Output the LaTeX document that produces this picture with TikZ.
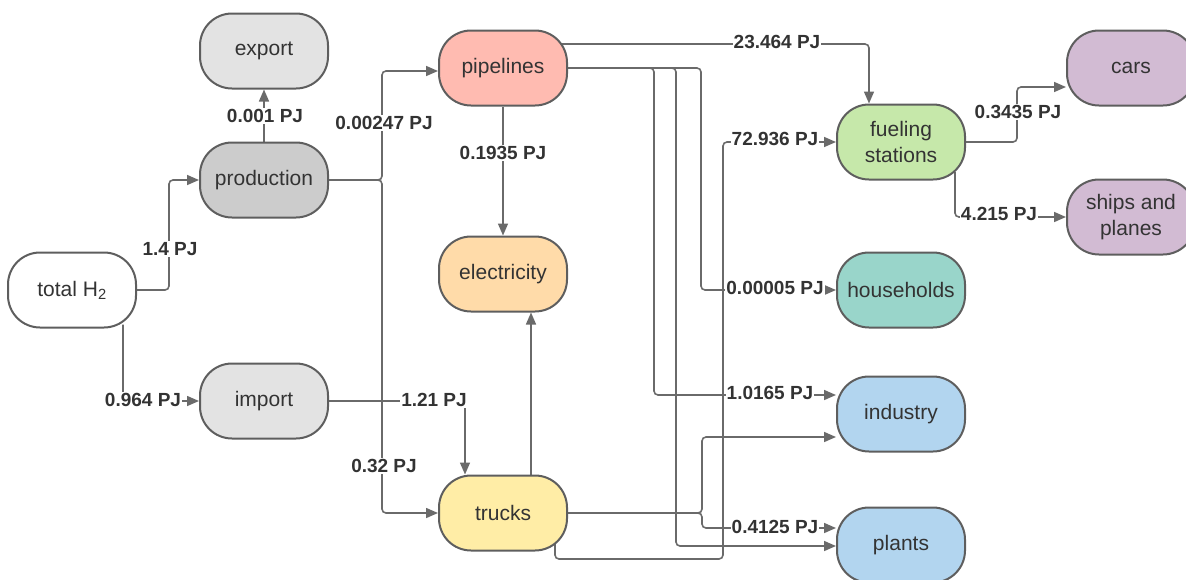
\documentclass[tikz,border=0pt]{standalone}
\usepackage{fontspec}
\setmainfont{Liberation Sans}
\usetikzlibrary{arrows.meta,calc}
\pgfdeclarelayer{bg}
\pgfsetlayers{bg,main}

\definecolor{edgegray}{HTML}{5E5E5E}
\definecolor{linegray}{HTML}{6A6A6A}
\definecolor{txt}{HTML}{333333}
\definecolor{lightgray}{HTML}{E3E3E3}
\definecolor{midgray}{HTML}{CCCCCC}
\definecolor{salmon}{HTML}{FFBBB1}
\definecolor{peach}{HTML}{FFDBA9}
\definecolor{butter}{HTML}{FFEDA6}
\definecolor{leaf}{HTML}{C6E8AA}
\definecolor{teal}{HTML}{99D5CA}
\definecolor{sky}{HTML}{B2D5EF}
\definecolor{lilac}{HTML}{D2BBD3}

\begin{document}
\begin{tikzpicture}[x=1pt,y=-1pt,
  box/.style={draw=edgegray, line width=2pt, rounded corners=32pt,
    minimum width=128pt, minimum height=75pt, inner sep=0pt,
    text=txt, align=center, font=\fontsize{21}{26}\selectfont},
  flow/.style={draw=linegray, line width=1.6pt, rounded corners=4pt,
    -{Triangle[length=12pt,width=10pt]}},
  qty/.style={fill=white, text=txt, inner sep=1pt,
    font=\fontsize{19}{22}\selectfont\bfseries}]

\useasboundingbox (0,0) rectangle (1186,579);

% sources and processes
\node[box, fill=white]     (total)      at (72,290)   {total H\textsubscript{2}};
\node[box, fill=lightgray] (export)     at (264,51)   {export};
\node[box, fill=midgray]   (production) at (264,180)  {production};
\node[box, fill=lightgray] (import)     at (264,401)  {import};
\node[box, fill=salmon]    (pipelines)  at (503,68)   {pipelines};
\node[box, fill=peach]     (electricity) at (503,274) {electricity};
\node[box, fill=butter]    (trucks)     at (503,513)  {trucks};
% consumers
\node[box, fill=leaf]      (fueling)    at (901,142)  {fueling\\stations};
\node[box, fill=teal]      (households) at (901,290)  {households};
\node[box, fill=sky]       (industry)   at (901,414)  {industry};
\node[box, fill=sky]       (plants)     at (901,545)  {plants};
\node[box, fill=lilac]     (cars)       at (1131,68)  {cars};
\node[box, fill=lilac]     (ships)      at (1131,217) {ships and\\planes};

\begin{pgfonlayer}{bg}
  % total hydrogen split
  \draw[flow] (total.east) -| ($(production.west)+(-30,0)$) -- (production.west);
  \draw[flow] ($(total.south)+(51,-4)$) |- (import.west);
  % production outputs
  \draw[flow] (production.north) -- (export.south);
  \draw[flow] (production.east) -| ($(pipelines.west)+(-56,3)$) -- ($(pipelines.west)+(0,3)$);
  \draw[flow] (production.east) -| ($(trucks.west)+(-56,0)$) -- (trucks.west);
  % import
  \draw[flow] (import.east) -| ($(trucks.north)+(-38,0)$);
  % pipelines
  \draw[flow] (pipelines.south) -- (electricity.north);
  \draw[flow] ($(pipelines.east)+(-8,-24)$) -| ($(fueling.north)+(-32,0)$);
  \draw[flow] (pipelines.east) -| ($(households.west)+(-135,0)$) -- (households.west);
  \draw[flow] (pipelines.east) -| ($(industry.west)+(-182,-19)$) -- ($(industry.west)+(0,-19)$);
  \draw[flow] (pipelines.east) -| ($(plants.west)+(-160,1)$) -- ($(plants.west)+(0,1)$);
  % trucks
  \draw[flow] ($(trucks.north)+(28,0)$) -- ($(electricity.south)+(28,0)$);
  \draw[flow] ($(trucks.center)+(52,30)$) -- ($(trucks.center)+(52,46)$)
              -| ($(fueling.west)+(-113,0)$) -- (fueling.west);
  \draw[flow] (trucks.east) -| ($(industry.west)+(-134,23)$) -- ($(industry.west)+(0,23)$);
  \draw[flow] (trucks.east) -| ($(plants.west)+(-134,-17)$) -- ($(plants.west)+(0,-17)$);
  % fueling stations
  \draw[flow] (fueling.east) -| ($(cars.west)+(-49,19)$) -- ($(cars.west)+(0,19)$);
  \draw[flow] ($(fueling.center)+(54,30)$) |- (ships.west);
\end{pgfonlayer}

% quantities
\node[qty] (q1)  at (170,249)  {1.4 PJ};
\node[qty] (q2)  at (265,116)  {0.001 PJ};
\node[qty] (q3)  at (384,123)  {0.00247 PJ};
\node[qty] (q4)  at (503,153)  {0.1935 PJ};
\node[qty] (q5)  at (143,400)  {0.964 PJ};
\node[qty] (q6)  at (434,400)  {1.21 PJ};
\node[qty] (q7)  at (384,466)  {0.32 PJ};
\node[qty] (q8)  at (777,42)   {23.464 PJ};
\node[qty] (q9)  at (775,139)  {72.936 PJ};
\node[qty] (q10) at (775,288)  {0.00005 PJ};
\node[qty] (q11) at (770,393)  {1.0165 PJ};
\node[qty] (q12) at (775,527)  {0.4125 PJ};
\node[qty] (q13) at (1018,112) {0.3435 PJ};
\node[qty] (q14) at (999,214)  {4.215 PJ};
\end{tikzpicture}
\end{document}
